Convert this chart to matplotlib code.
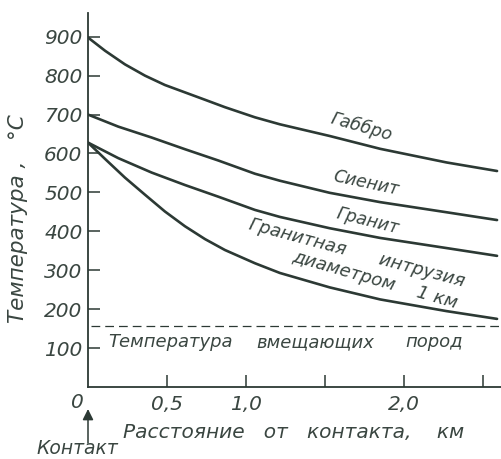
import numpy as np
import matplotlib
matplotlib.use("Agg")
import matplotlib.pyplot as plt

# ---------------------------------------------------------------------------
# Data (distance from contact in km, temperature in °C)
# ---------------------------------------------------------------------------
gabbro_km = [0.0, 0.108, 0.234, 0.361, 0.487, 0.614, 0.741, 0.867, 1.057,
             1.215, 1.53, 1.85, 2.27, 2.59]
gabbro_T  = [898, 864, 829, 800, 776, 757, 738, 719, 693,
             675, 645, 612, 577, 555]

syenite_km = [0.0, 0.192, 0.403, 0.614, 0.825, 1.057, 1.215, 1.53, 1.85,
              2.27, 2.59]
syenite_T  = [700, 669, 641, 611, 582, 548, 530, 499, 475, 449, 429]

granite_km = [0.0, 0.192, 0.403, 0.614, 0.825, 1.057, 1.215, 1.53, 1.85,
              2.27, 2.59]
granite_T  = [628, 588, 551, 519, 489, 455, 437, 408, 383, 357, 337]

intrusion_km = [0.0, 0.108, 0.234, 0.361, 0.487, 0.614, 0.741, 0.867,
                1.057, 1.215, 1.53, 1.85, 2.27, 2.59]
intrusion_T  = [628, 586, 538, 494, 451, 413, 380, 352,
                318, 293, 256, 225, 195, 175]

host_T = 158                     # temperature of host rocks (dashed line)
host_km = [0.02, 2.615]

y_ticks = [100, 200, 300, 400, 500, 600, 700, 800, 900]
x_ticks = [0.5, 1.0, 1.5, 2.0, 2.5]
x_tick_labels = ["0,5", "1,0", "", "2,0", ""]

# ---------------------------------------------------------------------------
LINE = "#2c3934"
TXT = "#3a4641"
plt.rcParams["font.family"] = ["DejaVu Sans"]
plt.rcParams["font.style"] = "italic"

fig = plt.figure(figsize=(5.01, 4.59), dpi=100)
ax = fig.add_axes([88 / 501, 1 - 387 / 459, 413 / 501, 374 / 459])

for km, T in [(gabbro_km, gabbro_T), (syenite_km, syenite_T),
              (granite_km, granite_T), (intrusion_km, intrusion_T)]:
    ax.plot(km, T, color=LINE, lw=1.9, solid_capstyle="round",
            solid_joinstyle="round")

ax.plot(host_km, [host_T, host_T], color=LINE, lw=0.9, ls=(0, (7, 4)))

ax.set_xlim(0, 2.615)
ax.set_ylim(0, 961)

for s in ["top", "right"]:
    ax.spines[s].set_visible(False)
for s in ["left", "bottom"]:
    ax.spines[s].set_color(LINE)
    ax.spines[s].set_linewidth(1.3)

ax.set_yticks(y_ticks)
ax.set_yticklabels([str(v) for v in y_ticks])
ax.set_xticks(x_ticks)
ax.set_xticklabels(x_tick_labels)
ax.tick_params(axis="both", direction="in", length=8.5, width=1.1,
               color=LINE, labelcolor=TXT, labelsize=14.5)
ax.tick_params(axis="y", pad=4)
ax.tick_params(axis="x", pad=6)

# origin label
ax.text(-0.07, -15, "0", color=TXT, fontsize=14.5, ha="center", va="top",
        clip_on=False)

# curve labels
ax.text(1.73, 668, "Габбро", color=TXT, fontsize=12.5, rotation=-16,
        ha="center", va="center", rotation_mode="anchor")
ax.text(1.76, 524, "Сиенит", color=TXT, fontsize=12.5, rotation=-12,
        ha="center", va="center", rotation_mode="anchor")
ax.text(1.77, 427, "Гранит", color=TXT, fontsize=12.5, rotation=-14,
        ha="center", va="center", rotation_mode="anchor")
ax.text(1.70, 344, "Гранитная      интрузия", color=TXT, fontsize=13,
        rotation=-15, ha="center", va="center", rotation_mode="anchor")
ax.text(1.82, 275, "диаметром    1 км", color=TXT, fontsize=13,
        rotation=-16, ha="center", va="center", rotation_mode="anchor")

# host rock label
ax.text(0.525, 103, "Температура", color=TXT, fontsize=13, ha="center",
        va="baseline")
ax.text(1.44, 103, "вмещающих", color=TXT, fontsize=13, ha="center",
        va="baseline")
ax.text(2.19, 103, "пород", color=TXT, fontsize=13, ha="center",
        va="baseline")

# axis titles
fig.text(18 / 501, 1 - 219 / 459, "Температура ,   °С", color=TXT,
         fontsize=15.5, rotation=90, ha="center", va="center")
fig.text(294 / 501, 1 - 433 / 459, "Расстояние   от   контакта,    км",
         color=TXT, fontsize=14.5, ha="center", va="center")

# contact arrow
ax.annotate("", xy=(0, (387 - 409) / 0.389), xytext=(0, (387 - 443) / 0.389),
            xycoords="data", textcoords="data", annotation_clip=False,
            arrowprops=dict(arrowstyle="-|>", color=LINE, lw=1.1,
                            mutation_scale=16, shrinkA=0, shrinkB=0))
fig.text(77 / 501, 1 - 449 / 459, "Контакт", color=TXT, fontsize=13.5,
         ha="center", va="center")

fig.savefig("out.png", dpi=100, facecolor="white")
